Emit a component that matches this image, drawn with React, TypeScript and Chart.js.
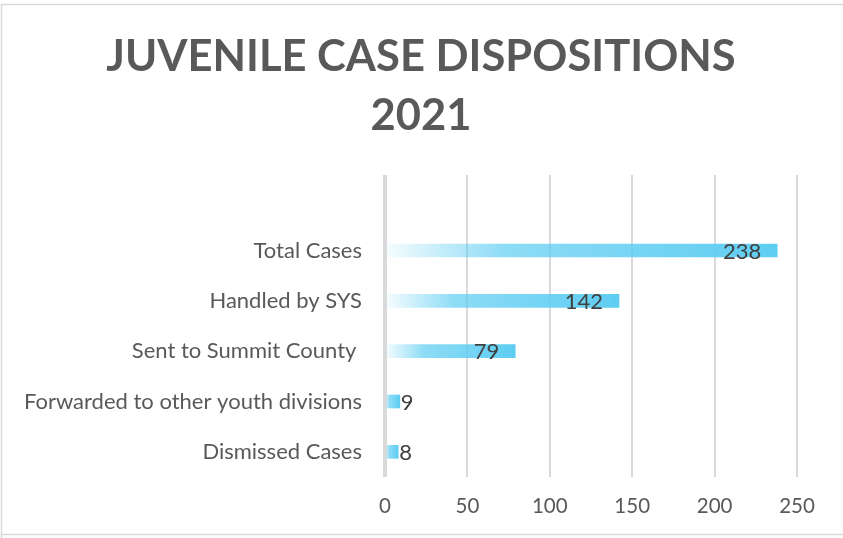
import React, { useEffect, useRef } from "react";
import { Chart, registerables } from "chart.js";

Chart.register(...registerables);

const TITLE_LINES = ["JUVENILE CASE DISPOSITIONS", "2021"];
const categories = [
  "Total Cases",
  "Handled by SYS",
  "Sent to Summit County ",
  "Forwarded to other youth divisions",
  "Dismissed Cases",
];
const values = [238, 142, 79, 9, 8];
const xTicks = [0, 50, 100, 150, 200, 250];

const FONT = "Lato, 'Open Sans', sans-serif";
const BAR_RGB = "94,205,242";

const frameAndTitle = {
  id: "frameAndTitle",
  beforeDraw(chart: any) {
    const c = chart.ctx;
    c.save();
    c.fillStyle = "#ffffff";
    c.fillRect(0, 0, chart.width, chart.height);
    c.strokeStyle = "#d9d9d9";
    c.lineWidth = 1.5;
    c.beginPath();
    c.moveTo(1.5, 540);
    c.lineTo(1.5, 4.5);
    c.lineTo(845, 4.5);
    c.moveTo(1.5, 534.5);
    c.lineTo(845, 534.5);
    c.stroke();
    c.fillStyle = "#595959";
    c.font = `bold 43.5px ${FONT}`;
    c.textAlign = "center";
    c.textBaseline = "middle";
    c.fillText(TITLE_LINES[0], 421, 57);
    c.fillText(TITLE_LINES[1], 421, 116);
    c.restore();
  },
};

const valueLabels = {
  id: "valueLabels",
  afterDatasetsDraw(chart: any) {
    const c = chart.ctx;
    const meta = chart.getDatasetMeta(0);
    const ds = chart.data.datasets[0].data;
    c.save();
    c.font = `22px ${FONT}`;
    c.fillStyle = "#404040";
    c.textBaseline = "middle";
    meta.data.forEach((bar: any, i: number) => {
      const v = ds[i];
      if (v == null) return;
      const txt = String(v);
      const w = c.measureText(txt).width;
      const len = bar.x - bar.base;
      let x;
      if (len > w + 30) {
        x = bar.x - 16 - w;
      } else {
        x = bar.x + 1;
      }
      c.textAlign = "left";
      c.fillText(txt, x, bar.y + 1);
    });
    c.restore();
  },
};

export default function App() {
  const ref = useRef<HTMLCanvasElement>(null);
  useEffect(() => {
    if (!ref.current) return;
    const labels = ["", ...categories];
    const data = [null, ...values];
    const chart = new Chart(ref.current, {
      type: "bar",
      data: {
        labels,
        datasets: [
          {
            data,
            barThickness: 13,
            borderWidth: 0,
            backgroundColor: (ctx: any) => {
              const chart = ctx.chart;
              const { chartArea, scales } = chart;
              if (!chartArea || ctx.raw == null || !scales.x) return `rgb(${BAR_RGB})`;
              const x0 = scales.x.getPixelForValue(0);
              const x1 = scales.x.getPixelForValue(ctx.raw);
              if (!isFinite(x0) || !isFinite(x1) || x1 - x0 < 1) return `rgb(${BAR_RGB})`;
              const g = chart.ctx.createLinearGradient(x0, 0, x1, 0);
              g.addColorStop(0, `rgba(${BAR_RGB},0.05)`);
              g.addColorStop(0.3, `rgba(${BAR_RGB},0.7)`);
              g.addColorStop(1, `rgba(${BAR_RGB},1)`);
              return g;
            },
          } as any,
        ],
      },
      options: {
        indexAxis: "y",
        responsive: false,
        animation: false,
        devicePixelRatio: 1,
        layout: { padding: { top: 175, right: 46, bottom: 0, left: 0 } },
        plugins: {
          legend: { display: false },
          title: { display: false },
          tooltip: { enabled: false },
        },
        scales: {
          x: {
            min: 0,
            max: 250,
            afterBuildTicks: (scale: any) => {
              scale.ticks = xTicks.map((v) => ({ value: v }));
            },
            afterFit: (scale: any) => {
              scale.height = 61;
            },
            grid: {
              color: "#d9d9d9",
              lineWidth: (ctx: any) => (ctx.tick && ctx.tick.value === 0 ? 4 : 2),
              drawTicks: false,
            },
            border: { display: false },
            ticks: {
              color: "#595959",
              font: { family: FONT, size: 20.5 },
              padding: 17,
            },
          },
          y: {
            afterFit: (scale: any) => {
              scale.width = 385;
            },
            grid: { display: false, drawTicks: false },
            border: { display: false },
            ticks: {
              color: "#595959",
              font: { family: FONT, size: 22 },
              padding: 23,
              autoSkip: false,
            },
          },
        },
      },
      plugins: [frameAndTitle, valueLabels],
    } as any);
    return () => chart.destroy();
  }, []);
  return (
    <div style={{ position: "fixed", left: 0, top: 0, width: 843, height: 538, background: "#fff" }}>
      <canvas ref={ref} width={843} height={538} style={{ display: "block" }} />
    </div>
  );
}
